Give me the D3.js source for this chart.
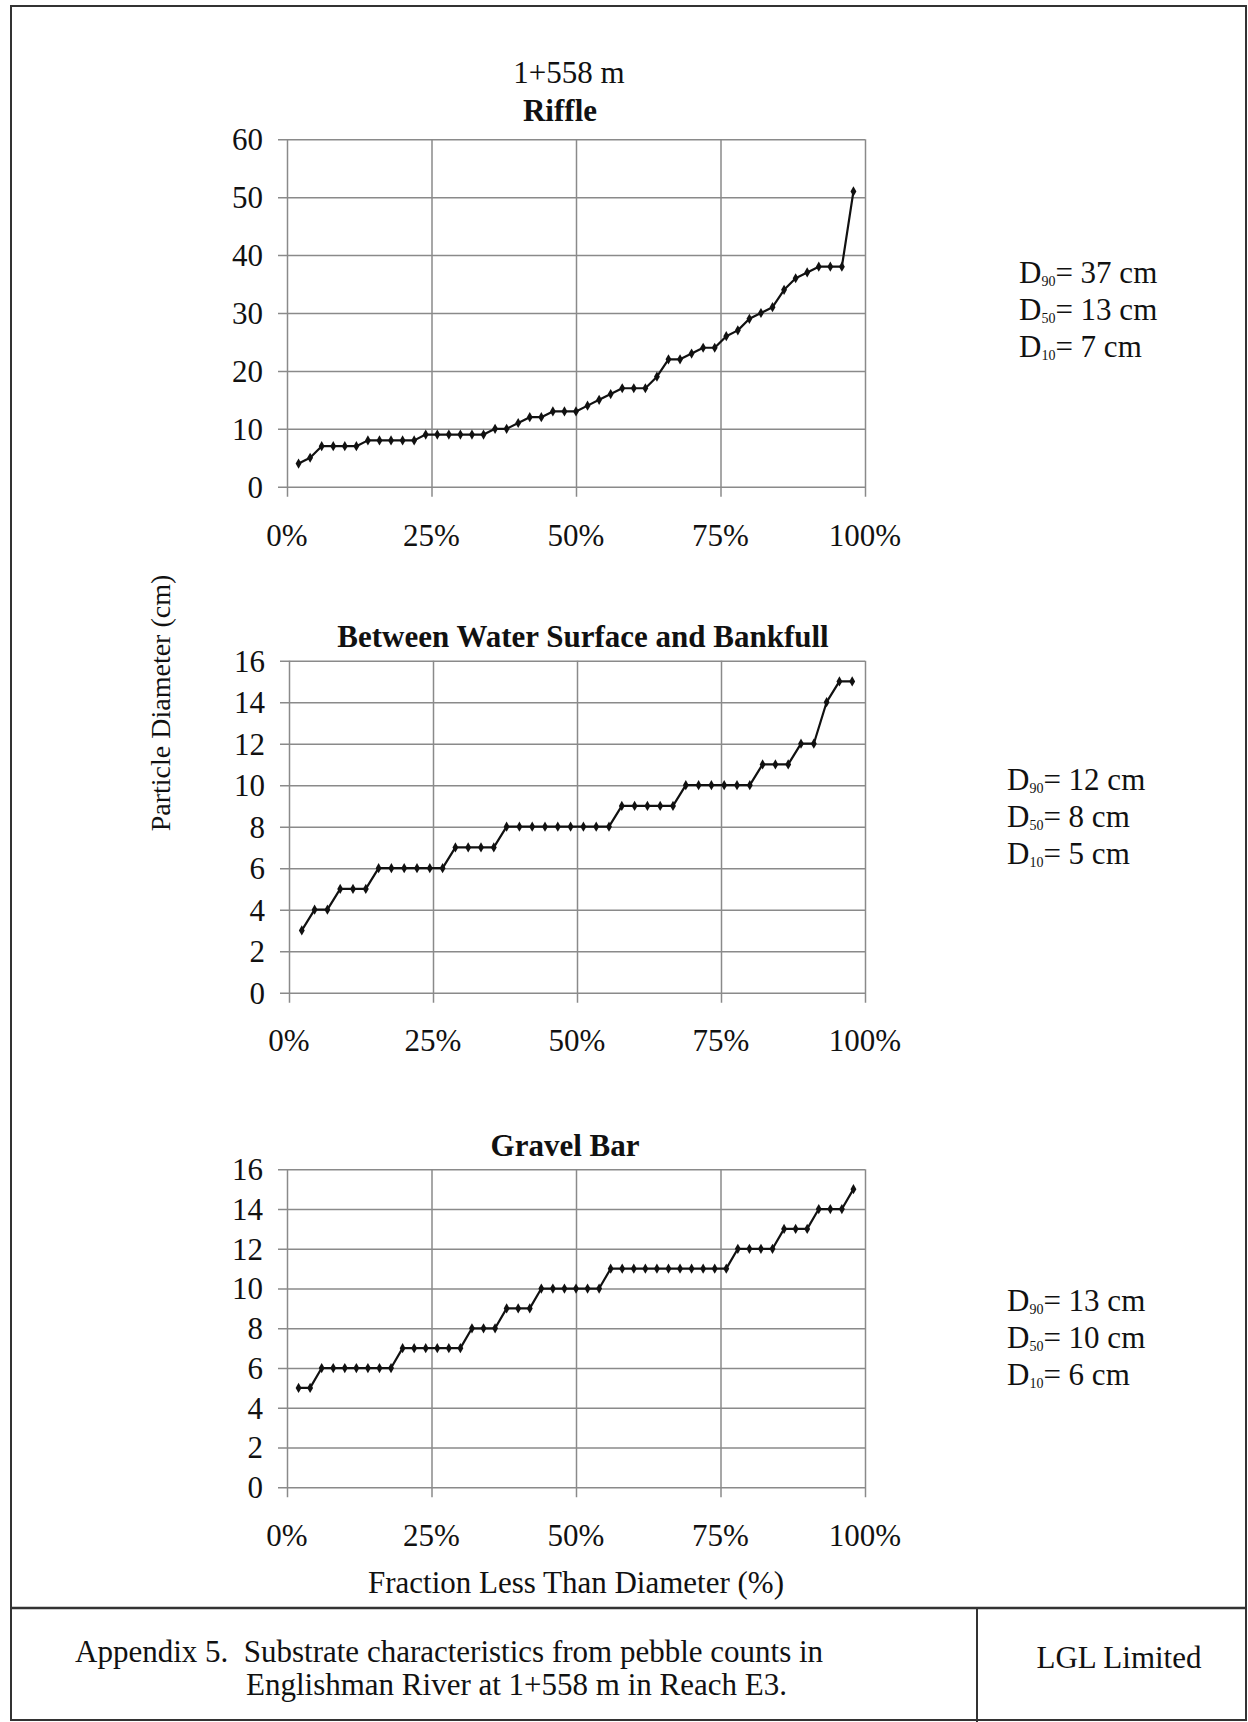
<!DOCTYPE html>
<html>
<head>
<meta charset="utf-8">
<script src="https://cdn.jsdelivr.net/npm/d3@7"></script>
<style>
  html, body { margin: 0; padding: 0; background: #fff; }
  svg { display: block; }
  text { font-family: "Liberation Serif", "Times New Roman", serif; fill: #111; }
</style>
</head>
<body>
<svg id="chart" width="1248" height="1722"></svg>
<script>
// ---------- DATA ----------
const pageTitle = "1+558 m";
const chartTitles = ["Riffle", "Between Water Surface and Bankfull", "Gravel Bar"];
const riffleValues = [4,5,7,7,7,7,8,8,8,8,8,9,9,9,9,9,9,10,10,11,12,12,13,13,13,14,15,16,17,17,17,19,22,22,23,24,24,26,27,29,30,31,34,36,37,38,38,38,51];
const bankfullValues = [3,4,4,5,5,5,6,6,6,6,6,6,7,7,7,7,8,8,8,8,8,8,8,8,8,9,9,9,9,9,10,10,10,10,10,10,11,11,11,12,12,14,15,15];
const gravelValues = [5,5,6,6,6,6,6,6,6,7,7,7,7,7,7,8,8,8,9,9,9,10,10,10,10,10,10,11,11,11,11,11,11,11,11,11,11,11,12,12,12,12,13,13,13,14,14,14,15];
const xTickValues = [0, 25, 50, 75, 100];
const xTickLabels = ["0%", "25%", "50%", "75%", "100%"];
const riffleYTicks = [0, 10, 20, 30, 40, 50, 60];
const smallYTicks = [0, 2, 4, 6, 8, 10, 12, 14, 16];
const statLabels = ["90", "50", "10"];
const riffleStats = ["37", "13", "7"];
const bankfullStats = ["12", "8", "5"];
const gravelStats = ["13", "10", "6"];
const yAxisLabel = "Particle Diameter (cm)";
const xAxisLabel = "Fraction Less Than Diameter (%)";
const footerLines = ["Appendix 5.  Substrate characteristics from pebble counts in", "Englishman River at 1+558 m in Reach E3."];
const footerRight = "LGL Limited";

// ---------- LAYOUT ----------
const FS = 31;
const svg = d3.select("#chart");
const panels = [
  { title: chartTitles[0], values: riffleValues, yTicks: riffleYTicks, stats: riffleStats,
    left: 287, right: 865, top: 139.3, bottom: 486.7, titleX: 560, titleY: 121, xLabelY: 546,
    statsX: 1019, statsY: [283, 320, 357] },
  { title: chartTitles[1], values: bankfullValues, yTicks: smallYTicks, stats: bankfullStats,
    left: 289, right: 865, top: 660.7, bottom: 992.7, titleX: 583, titleY: 647, xLabelY: 1051,
    statsX: 1007, statsY: [790, 827, 864] },
  { title: chartTitles[2], values: gravelValues, yTicks: smallYTicks, stats: gravelStats,
    left: 287, right: 865, top: 1169.3, bottom: 1487.3, titleX: 565, titleY: 1156, xLabelY: 1546,
    statsX: 1007, statsY: [1311, 1348, 1385] }
];

// page frame
svg.append("rect").attr("x", 11).attr("y", 6).attr("width", 1235).attr("height", 1714)
  .attr("fill", "none").attr("stroke", "#333").attr("stroke-width", 2);
svg.append("line").attr("x1", 11).attr("x2", 1246).attr("y1", 1608).attr("y2", 1608)
  .attr("stroke", "#333").attr("stroke-width", 2.5);
svg.append("line").attr("x1", 977).attr("x2", 977).attr("y1", 1608).attr("y2", 1722)
  .attr("stroke", "#333").attr("stroke-width", 2);

svg.append("text").attr("x", 569).attr("y", 83).attr("text-anchor", "middle")
  .attr("font-size", FS).text(pageTitle);

panels.forEach(p => {
  const yMax = d3.max(p.yTicks);
  const x = d3.scaleLinear().domain([0, 100]).range([p.left, p.right]);
  const y = d3.scaleLinear().domain([0, yMax]).range([p.bottom, p.top]);
  const g = svg.append("g");
  const gridColor = "#8a8a8a";

  // horizontal gridlines + y ticks (via axis)
  const yAxis = d3.axisLeft(y).tickValues(p.yTicks).tickSize(-(p.right - p.left)).tickSizeOuter(0).tickFormat("");
  const ya = g.append("g").attr("transform", `translate(${p.left},0)`).call(yAxis);
  ya.select(".domain").remove();
  ya.selectAll(".tick line").attr("stroke", gridColor).attr("stroke-width", 1.5).attr("x1", -9);

  // vertical gridlines + x ticks
  const xAxis = d3.axisBottom(x).tickValues(xTickValues).tickSize(-(p.bottom - p.top)).tickFormat("");
  const xa = g.append("g").attr("transform", `translate(0,${p.bottom})`).call(xAxis);
  xa.select(".domain").remove();
  xa.selectAll(".tick line").attr("stroke", gridColor).attr("stroke-width", 1.5).attr("y1", 10);

  // y tick labels
  g.selectAll(".ylab").data(p.yTicks).enter().append("text")
    .attr("x", p.left - 24).attr("y", d => y(d)).attr("dy", "0.35em")
    .attr("text-anchor", "end").attr("font-size", FS).text(d => d);

  // x tick labels
  g.selectAll(".xlab").data(xTickValues).enter().append("text")
    .attr("x", d => x(d)).attr("y", p.xLabelY).attr("text-anchor", "middle")
    .attr("font-size", FS).text((d, i) => xTickLabels[i]);

  // title
  g.append("text").attr("x", p.titleX).attr("y", p.titleY).attr("text-anchor", "middle")
    .attr("font-size", FS).attr("font-weight", "bold").text(p.title);

  // series: plotting position rank/(n+1)
  const n = p.values.length;
  const pts = p.values.map((v, i) => ({ f: (i + 1) / (n + 1) * 100, v }));
  const line = d3.line().x(d => x(d.f)).y(d => y(d.v));
  g.append("path").datum(pts).attr("d", line).attr("fill", "none")
    .attr("stroke", "#111").attr("stroke-width", 2.2).attr("stroke-linejoin", "round");
  g.selectAll(".pt").data(pts).enter().append("path")
    .attr("d", d3.symbol().type(d3.symbolDiamond).size(30))
    .attr("transform", d => `translate(${x(d.f)},${y(d.v)})`)
    .attr("fill", "#111");

  // stats text
  p.stats.forEach((s, i) => {
    const t = g.append("text").attr("x", p.statsX).attr("y", p.statsY[i]).attr("font-size", FS);
    t.append("tspan").text("D");
    t.append("tspan").attr("font-size", 14).attr("dy", 3).text(statLabels[i]);
    t.append("tspan").attr("dy", -3).text("= " + s + " cm");
  });
});

// axis titles
svg.append("text").attr("transform", "translate(170,703) rotate(-90)")
  .attr("text-anchor", "middle").attr("font-size", 28).text(yAxisLabel);
svg.append("text").attr("x", 576).attr("y", 1593).attr("text-anchor", "middle")
  .attr("font-size", FS).text(xAxisLabel);

// footer
svg.append("text").attr("x", 75).attr("y", 1662).attr("font-size", FS).attr("xml:space", "preserve")
  .style("white-space", "pre").text(footerLines[0]);
svg.append("text").attr("x", 246).attr("y", 1695).attr("font-size", FS).text(footerLines[1]);
svg.append("text").attr("x", 1119).attr("y", 1668).attr("text-anchor", "middle")
  .attr("font-size", FS).text(footerRight);
</script>
</body>
</html>
